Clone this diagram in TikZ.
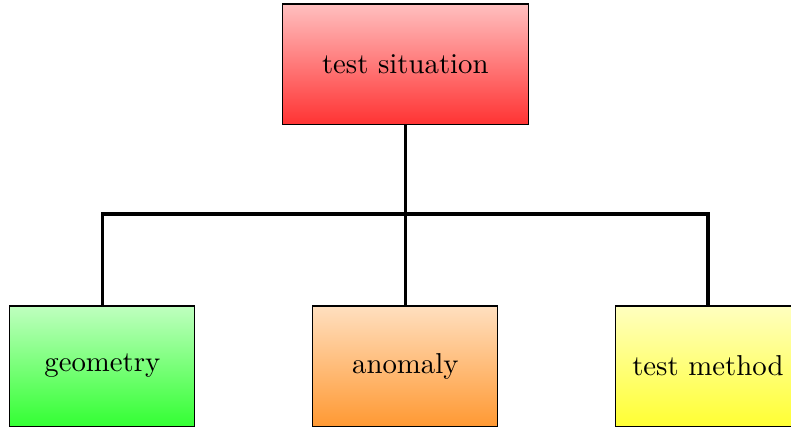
\documentclass[tikz,border=0pt]{standalone}
\usepackage{tikz}
\usetikzlibrary{positioning}

\begin{document}
\begin{tikzpicture}[
  box/.style={draw,minimum width=2.26cm,minimum height=1.47cm,
    font=\normalsize,align=center},
  topbox/.style={box,minimum width=3cm,top color=red!25,bottom color=red!80},
  geobox/.style={box,top color=green!25,bottom color=green!80},
  anobox/.style={box,top color=orange!25,bottom color=orange!80},
  methbox/.style={box,top color=yellow!25,bottom color=yellow!80},
  conn/.style={very thick}
]
\useasboundingbox (0,0) rectangle (9.66,5.24);
%% root
\node[topbox] (sit) at (4.95, 4.457) {test situation};
%% children
\node[geobox] (geo) at (1.25, 0.769) {geometry};
\node[anobox] (anom) at (4.95, 0.769) {anomaly};
\node[methbox] (meth) at (8.645, 0.769) {test method};
%% tree lines
\coordinate (bar) at (4.95, 2.625);
\draw[conn] (sit.south) -- (anom.north);
\draw[conn] (geo.north) |- (bar) -| (meth.north);
\end{tikzpicture}
\end{document}
